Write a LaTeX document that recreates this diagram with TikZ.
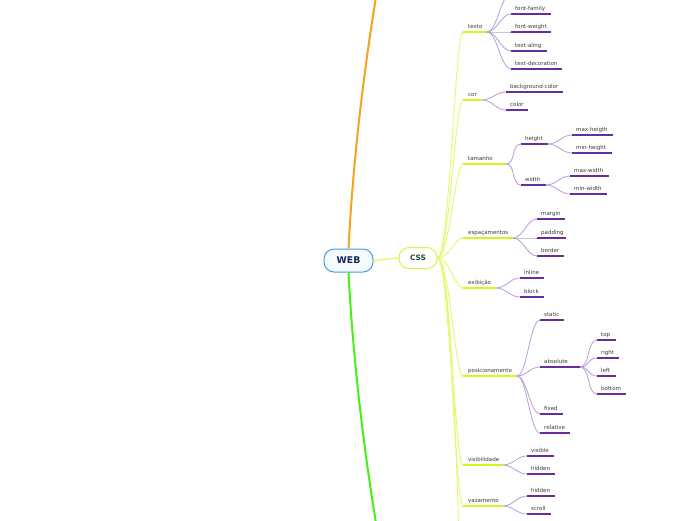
\documentclass[tikz,border=0pt]{standalone}
\usepackage{fontspec}
\setmainfont{DejaVu Sans}
\definecolor{orangeline}{HTML}{F7A21B}
\definecolor{greenline}{HTML}{44F018}
\definecolor{cssline}{HTML}{E6F76E}
\definecolor{cssunder}{HTML}{D6F51E}
\definecolor{subline}{HTML}{B89DD9}
\definecolor{subunder}{HTML}{6A2B9E}
\definecolor{webborder}{HTML}{4A9BDB}
\definecolor{webfill}{HTML}{F4FAFD}
\definecolor{webtext}{HTML}{17285A}
\definecolor{cssborder}{HTML}{D6F53C}
\definecolor{csstext}{HTML}{1E4C3E}
\definecolor{txt}{HTML}{3A3A3A}
\tikzset{
  lbl/.style={anchor=base west, inner sep=0pt, font=\fontsize{5.5}{6}\selectfont, text=txt},
  cssbranch/.style={draw=cssline, line width=0.9pt},
  cssul/.style={draw=cssunder, line width=1.9pt},
  subbranch/.style={draw=subline, line width=0.8pt},
  subul/.style={draw=subunder, line width=1.7pt},
  mainline/.style={line width=2pt},
}
\newcommand\cssitem[5]{% name x1 x2 y label
  \coordinate (#1-s) at (#2,#4);
  \coordinate (#1-e) at (#3,#4);
  \draw[cssbranch] (hub) .. controls +(12,0) and +(-8,0) .. (#1-s);
  \draw[cssul] (#1-s) -- (#1-e);
  \node[lbl] (#1) at (#2+5,#4-4) {#5};
}
\newcommand\leafitem[6]{% name parent x1 x2 y label
  \coordinate (#1-s) at (#3,#5);
  \coordinate (#1-e) at (#4,#5);
  \draw[subbranch] (#2-e) .. controls +(10,0) and +(-10,0) .. (#1-s);
  \draw[subul] (#1-s) -- (#1-e);
  \node[lbl] (#1) at (#3+4,#5-4) {#6};
}
\begin{document}
\begin{tikzpicture}[x=1pt,y=-1pt]
\useasboundingbox (0,0) rectangle (696,520);
\begin{scope}
\clip (0,0) rectangle (696,520);
\fill[white] (0,0) rectangle (696,520);

% main nodes
\node[draw=webborder, fill=webfill, line width=1pt, rounded corners=10pt,
      minimum width=49pt, minimum height=23pt, inner sep=0pt,
      font=\fontsize{9.3}{10}\selectfont\bfseries, text=webtext] (web) at (348.5,260.5) {WEB};
\node[draw=cssborder, fill=white, line width=1pt, rounded corners=10pt,
      minimum width=38pt, minimum height=21pt, inner sep=0pt,
      font=\fontsize{7.4}{8}\selectfont\bfseries, text=csstext] (css) at (418,258) {CSS};

\coordinate (otop) at (376,-3);
\coordinate (gbot) at (376,523);
\draw[mainline, draw=orangeline] (web.north) .. controls (353,160) and (364,70) .. (otop);
\draw[mainline, draw=greenline] (web.south) .. controls (353,360) and (364,450) .. (gbot);
\draw[draw=cssline, line width=1.5pt] (web.east) -- (css.west);

\coordinate (hub) at (css.east);
\coordinate (cssmore) at (459,540);
\draw[cssbranch] (hub) .. controls +(14,0) and +(-2,-60) .. (cssmore);

\cssitem{texto}{463}{487}{32}{texto}
\cssitem{cor}{463}{482}{100}{cor}
\cssitem{tamanho}{463}{506}{164}{tamanho}
\cssitem{espacamentos}{463}{513}{238}{espaçamentos}
\cssitem{exibicao}{463}{496}{288}{exibição}
\cssitem{posicionamento}{463}{517}{376}{posicionamento}
\cssitem{visibilidade}{463}{503}{465}{visibilidade}
\cssitem{vazamento}{463}{503}{506}{vazamento}

% texto
\coordinate (textomore) at (511,-6);
\draw[subbranch] (texto-e) .. controls +(10,0) and +(-10,0) .. (textomore);
\leafitem{fontfamily}{texto}{511}{551}{14}{font-family}
\leafitem{fontweight}{texto}{511}{551}{32}{font-weight}
\leafitem{textaling}{texto}{511}{547}{51}{text-aling}
\leafitem{textdecoration}{texto}{511}{562}{69}{text-decoration}

% cor
\leafitem{bgcolor}{cor}{506}{563}{92}{background-color}
\leafitem{color}{cor}{506}{528}{110}{color}

% tamanho
\leafitem{height}{tamanho}{521}{548}{144}{height}
\leafitem{width}{tamanho}{521}{546}{185}{width}
\leafitem{maxheigth}{height}{572}{613}{135}{max-heigth}
\leafitem{minheight}{height}{572}{612}{153}{min-height}
\leafitem{maxwidth}{width}{570}{609}{176}{max-width}
\leafitem{minwidth}{width}{570}{607}{194}{min-width}

% espacamentos
\leafitem{margin}{espacamentos}{537}{565}{219}{margin}
\leafitem{padding}{espacamentos}{537}{566}{238}{padding}
\leafitem{border}{espacamentos}{537}{564}{256}{border}

% exibicao
\leafitem{inline}{exibicao}{520}{544}{278}{inline}
\leafitem{block}{exibicao}{520}{544}{297}{block}

% posicionamento
\leafitem{static}{posicionamento}{540}{564}{320}{static}
\leafitem{absolute}{posicionamento}{540}{580}{367}{absolute}
\leafitem{fixed}{posicionamento}{540}{563}{414}{fixed}
\leafitem{relative}{posicionamento}{540}{570}{433}{relative}
\leafitem{top}{absolute}{597}{616}{340}{top}
\leafitem{right}{absolute}{597}{619}{358}{right}
\leafitem{left}{absolute}{597}{616}{376}{left}
\leafitem{bottom}{absolute}{597}{626}{394}{bottom}

% visibilidade
\leafitem{visible}{visibilidade}{527}{554}{456}{visible}
\leafitem{hiddenv}{visibilidade}{527}{555}{474}{hidden}

% vazamento
\leafitem{hiddenz}{vazamento}{527}{555}{496}{hidden}
\leafitem{scroll}{vazamento}{527}{551}{514}{scroll}
\end{scope}
\end{tikzpicture}
\end{document}
